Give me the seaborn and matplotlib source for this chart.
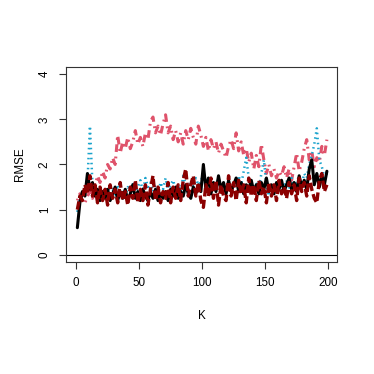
import numpy as np
import pandas as pd
import matplotlib
matplotlib.use("Agg")
import matplotlib.pyplot as plt
import seaborn as sns

# K values (every other K from 1 to 199)
k_vals = list(range(1, 200, 2))

rmse_black = [0.60, 1.15, 1.40, 1.30, 1.80, 1.45, 1.60, 1.30, 1.45, 1.20,
              1.40, 1.25, 1.45, 1.20, 1.35, 1.50, 1.20, 1.40, 1.25, 1.45,
              1.20, 1.35, 1.55, 1.25, 1.40, 1.20, 1.45, 1.30, 1.20, 1.40,
              1.25, 1.45, 1.20, 1.35, 1.25, 1.40, 1.20, 1.45, 1.30, 1.50,
              1.25, 1.40, 1.30, 1.55, 1.35, 1.25, 1.50, 1.35, 1.55, 1.40,
              2.00, 1.45, 1.70, 1.35, 1.60, 1.40, 1.75, 1.45, 1.60, 1.35,
              1.65, 1.40, 1.55, 1.70, 1.40, 1.60, 1.35, 1.55, 1.45, 1.65,
              1.40, 1.55, 1.35, 1.60, 1.45, 1.70, 1.40, 1.55, 1.35, 1.60,
              1.45, 1.65, 1.40, 1.55, 1.70, 1.45, 1.60, 1.40, 1.75, 1.50,
              1.65, 1.45, 1.90, 2.10, 1.55, 1.80, 1.50, 1.75, 1.55, 1.85]

rmse_darkred = [1.00, 1.30, 1.20, 1.55, 1.35, 1.75, 1.30, 1.55, 1.15, 1.50,
                1.20, 1.45, 1.10, 1.55, 1.25, 1.45, 1.15, 1.60, 1.20, 1.40,
                1.10, 1.50, 1.25, 1.65, 1.15, 1.45, 1.20, 1.55, 1.10, 1.45,
                1.75, 1.20, 1.50, 1.15, 1.40, 1.25, 1.60, 1.15, 1.50, 1.25,
                1.55, 1.20, 1.65, 1.90, 1.30, 1.55, 1.75, 1.30, 1.60, 1.20,
                1.05, 1.55, 1.30, 1.70, 1.25, 1.65, 1.10, 1.55, 1.30, 1.20,
                1.75, 1.30, 1.60, 1.20, 1.65, 1.35, 1.55, 1.15, 1.70, 1.30,
                1.55, 1.20, 1.65, 1.35, 1.50, 1.15, 1.60, 1.30, 1.55, 1.20,
                1.65, 1.35, 1.50, 1.25, 1.60, 1.35, 1.55, 1.20, 1.70, 1.40,
                1.60, 1.30, 1.75, 1.45, 1.25, 1.15, 1.65, 1.80, 1.40, 1.55]

rmse_pink = [1.20, 1.35, 1.20, 1.15, 1.30, 1.40, 1.25, 1.50, 1.75, 1.60,
             1.85, 1.70, 2.00, 1.90, 2.15, 2.00, 2.65, 2.25, 2.50, 2.35,
             2.60, 2.35, 2.50, 2.75, 2.45, 2.60, 2.40, 2.70, 2.55, 2.95,
             3.05, 2.70, 2.85, 2.65, 2.90, 3.10, 2.70, 2.85, 2.55, 2.75,
             2.50, 2.70, 2.45, 2.75, 2.55, 2.80, 2.60, 2.45, 2.85, 2.65,
             2.40, 2.60, 2.30, 2.55, 2.35, 2.50, 2.25, 2.45, 2.30, 2.15,
             2.40, 2.55, 2.35, 2.70, 2.30, 2.50, 2.20, 2.35, 2.05, 2.25,
             1.90, 2.20, 1.95, 2.45, 2.10, 1.80, 2.00, 1.75, 1.90, 1.70,
             1.85, 1.75, 1.95, 1.70, 1.90, 1.65, 1.95, 2.25, 1.85, 2.05,
             2.35, 2.55, 2.10, 2.30, 1.95, 2.15, 2.05, 2.40, 2.20, 2.55]

rmse_cyan = [0.95, 1.30, 1.35, 1.45, 1.60, 2.85, 1.55, 1.35, 1.45, 1.25,
             1.40, 1.30, 1.50, 1.35, 1.45, 1.30, 1.55, 1.35, 1.45, 1.30,
             1.50, 1.40, 1.60, 1.35, 1.50, 1.65, 1.40, 1.70, 1.50, 1.60,
             1.40, 1.55, 1.35, 1.60, 1.45, 1.70, 1.40, 1.55, 1.65, 1.45,
             1.55, 1.40, 1.75, 1.55, 1.45, 1.65, 1.50, 1.70, 1.55, 1.60,
             1.85, 1.55, 1.65, 1.45, 1.60, 1.50, 1.70, 1.40, 1.55, 1.45,
             1.60, 1.40, 1.55, 1.50, 1.75, 1.55, 1.85, 2.15, 1.70, 1.60,
             1.40, 1.60, 1.45, 1.80, 2.10, 1.55, 1.30, 1.45, 1.35, 1.55,
             1.45, 1.60, 1.50, 1.65, 1.45, 1.70, 1.55, 1.60, 1.75, 1.55,
             1.80, 1.70, 2.00, 2.20, 2.45, 2.80, 2.10, 1.95, 1.70, 1.80]

df = pd.DataFrame({"K": k_vals, "black": rmse_black, "darkred": rmse_darkred,
                   "pink": rmse_pink, "cyan": rmse_cyan})

sns.set_style("white")
plt.rcParams['font.family'] = ['Liberation Sans', 'DejaVu Sans']
plt.rcParams['text.color'] = 'black'
plt.rcParams['axes.labelcolor'] = 'black'
plt.rcParams['xtick.color'] = '#333333'
plt.rcParams['ytick.color'] = '#333333'

fig = plt.figure(figsize=(3.74, 3.74), dpi=100)
ax = fig.add_axes([0.1765, 0.2995, 0.7245, 0.5215])

sns.lineplot(data=df, x="K", y="pink", ax=ax, color="#DF536B", lw=2.2,
             linestyle=(0, (0.6, 1.5, 2.5, 1.5)))
sns.lineplot(data=df, x="K", y="cyan", ax=ax, color="#1AA3CC", lw=1.8,
             linestyle=(0, (0.6, 1.4)))
sns.lineplot(data=df, x="K", y="black", ax=ax, color="black", lw=2.2)
sns.lineplot(data=df, x="K", y="darkred", ax=ax, color="#8B0000", lw=2.4,
             linestyle=(0, (2.5, 1.0)))
ax.axhline(0, color="black", lw=0.8)

ax.set_xlim(-8, 207)
ax.set_ylim(-0.16, 4.16)
ax.set_xticks([0, 50, 100, 150, 200])
ax.set_yticks([0, 1, 2, 3, 4])
for sp in ax.spines.values():
    sp.set_color("#333333")
    sp.set_linewidth(0.8)
ax.tick_params(direction="out", length=5, width=0.8,
               labelsize=8.4, pad=6, left=True, bottom=True,
               labelcolor="black")
for lab in ax.get_yticklabels():
    lab.set_rotation(90)
    lab.set_va("center")
ax.set_xlabel("K", fontsize=8.4, labelpad=15)
ax.set_ylabel("RMSE", fontsize=8.4, labelpad=9)

fig.savefig("out.png", dpi=100)
